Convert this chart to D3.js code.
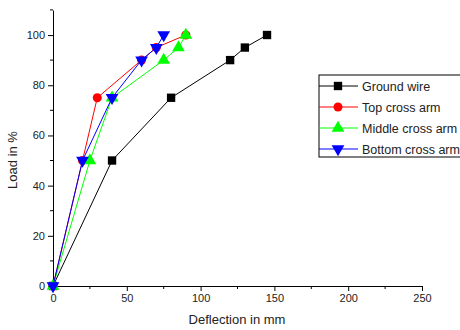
<!DOCTYPE html>
<html>
<head>
<meta charset="utf-8">
<script src="https://cdn.jsdelivr.net/npm/d3@7"></script>
<style>
	body { margin: 0; background: #fff; }
	text { font-family: Arial, "Liberation Sans", sans-serif; }
</style>
</head>
<body>
<svg id="chart" width="460" height="330"></svg>
<script>
// series data
const load = [0, 50, 75, 90, 95, 100];
const groundWire = [0, 40, 80, 120, 130, 145];
const topArm = [0, 20, 30, 60, 70, 90];
const middleArm = [0, 25, 40, 75, 85, 90];
const bottomArm = [0, 20, 40, 60, 70, 75];
const seriesNames = ["Ground wire", "Top cross arm", "Middle cross arm", "Bottom cross arm"];
const seriesColors = ["#000000", "#ff0000", "#00ff00", "#0000ff"];
const xTicks = [0, 50, 100, 150, 200, 250];
const yTicks = [0, 20, 40, 60, 80, 100];

let svg = d3.select("#chart");
let x = d3.scaleLinear().domain([0, 250]).range([53, 422]);
let y = d3.scaleLinear().domain([0, 100]).range([286, 35]);

let series = [groundWire, topArm, middleArm, bottomArm].map(function(xs, i) {
	return {
		name: seriesNames[i],
		color: seriesColors[i],
		pts: xs.map(function(v, j) { return [v, load[j]]; })
	};
});

// minor ticks
let minor = svg.append("g").attr("stroke", "#000");
d3.range(25, 250, 50).forEach(function(v) {
	minor.append("line").attr("x1", x(v)).attr("x2", x(v)).attr("y1", y(0)).attr("y2", y(0) + 3);
});
d3.range(10, 111, 20).forEach(function(v) {
	minor.append("line").attr("y1", y(v)).attr("y2", y(v)).attr("x1", x(0)).attr("x2", x(0) - 3);
});

let xAxis = svg.append("g")
	.attr("transform", "translate(0," + y(0) + ")")
	.call(d3.axisBottom(x).tickValues(xTicks).tickSize(5).tickSizeOuter(0).tickPadding(3));
let yAxis = svg.append("g")
	.attr("transform", "translate(" + x(0) + ",0)")
	.call(d3.axisLeft(y.copy().domain([0, 110]).range([286, 10])).tickValues(yTicks).tickSize(5).tickSizeOuter(0).tickPadding(3));
[xAxis, yAxis].forEach(function(a) {
	a.selectAll("text").attr("font-size", 11).attr("fill", "#222");
	a.select(".domain").attr("stroke", "#000");
});

svg.append("text")
	.attr("x", 237).attr("y", 324)
	.attr("text-anchor", "middle").attr("font-size", 13).attr("fill", "#222")
	.text("Deflection in mm");
svg.append("text")
	.attr("transform", "translate(17,160) rotate(-90)")
	.attr("text-anchor", "middle").attr("font-size", 13).attr("fill", "#222")
	.text("Load in %");

const symbols = [d3.symbolSquare, d3.symbolCircle, d3.symbolTriangle, d3.symbolTriangle];
const symSize = [70, 64, 70, 70];
function marker(g, i) {
	let p = g.append("path")
		.attr("d", d3.symbol().type(symbols[i]).size(symSize[i])())
		.attr("fill", seriesColors[i]);
	if (i === 3) p.attr("transform", "rotate(180)");
	return p;
}

let line = d3.line().x(function(d) { return x(d[0]); }).y(function(d) { return y(d[1]); });
series.forEach(function(s, i) {
	svg.append("path")
		.datum(s.pts)
		.attr("d", line)
		.attr("fill", "none")
		.attr("stroke", s.color)
		.attr("stroke-width", 1);
	s.pts.forEach(function(d) {
		let g = svg.append("g").attr("transform", "translate(" + x(d[0]) + "," + y(d[1]) + ")");
		marker(g, i);
	});
});

// legend
let legend = svg.append("g");
legend.append("rect")
	.attr("x", 319).attr("y", 75).attr("width", 160).attr("height", 82)
	.attr("fill", "#fff").attr("stroke", "#000").attr("stroke-width", 1);
series.forEach(function(s, i) {
	let ly = 86 + i * 21;
	legend.append("line").attr("x1", 319).attr("x2", 358).attr("y1", ly).attr("y2", ly).attr("stroke", s.color);
	let g = legend.append("g").attr("transform", "translate(338," + ly + ")");
	marker(g, i);
	legend.append("text").attr("x", 362).attr("y", ly + 4.5)
		.attr("font-size", 12.5).attr("fill", "#222").text(s.name);
});
</script>
</body>
</html>
